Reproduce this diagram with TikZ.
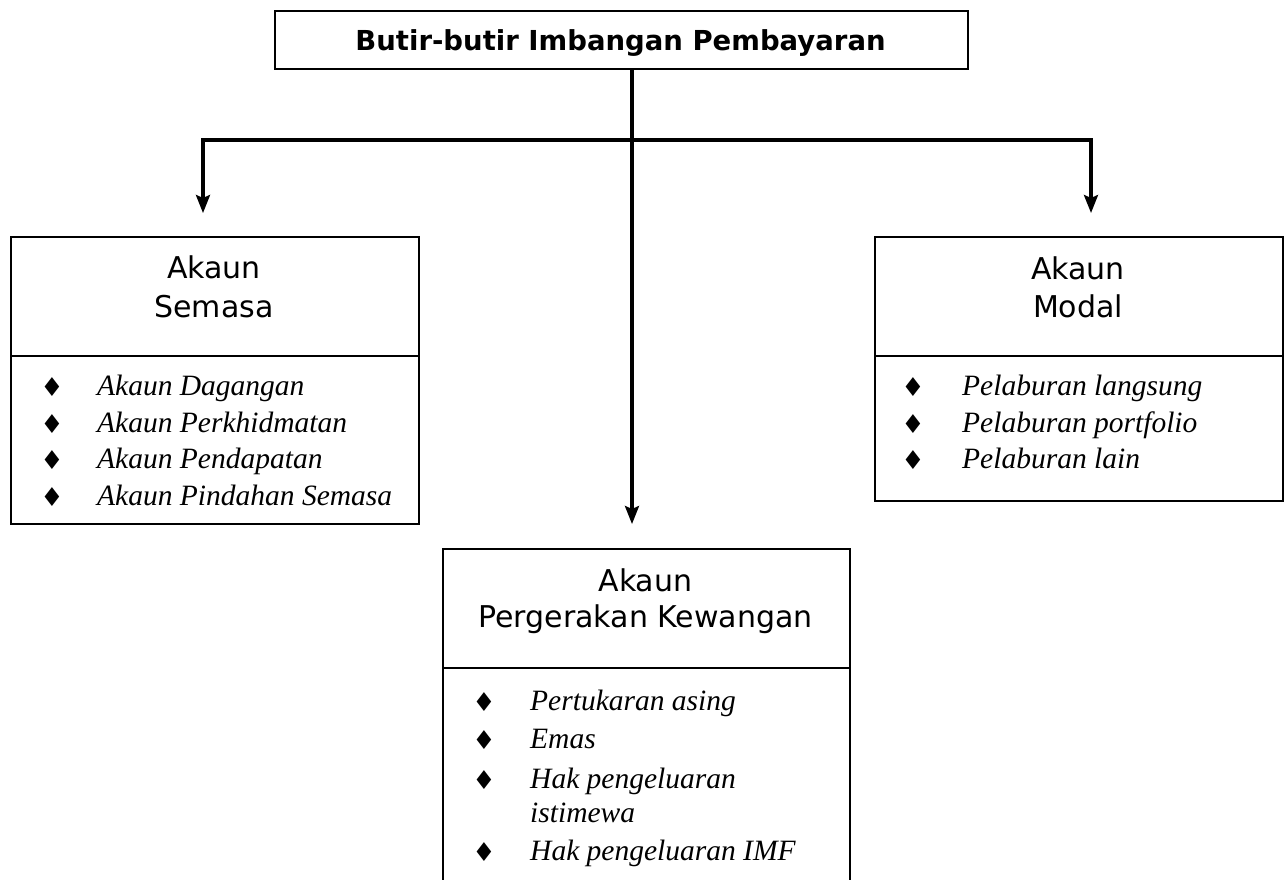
\documentclass[tikz,border=0pt]{standalone}
\usepackage{fontspec}
\setmainfont{Liberation Serif}
\newfontfamily\hdfont{DejaVu Sans}
\usetikzlibrary{arrows.meta,calc}
\begin{document}
\begin{tikzpicture}[x=1pt,y=-1pt,
 boxst/.style={draw, line width=2pt, inner sep=0pt, anchor=north west},
 sep/.style={line width=2pt},
 conn/.style={line width=3.2pt},
 arr/.style={conn, -{Stealth[length=18pt,width=14pt,inset=3pt]}},
 hd/.style={font=\hdfont\fontsize{30}{36}\selectfont, anchor=base, inner sep=0pt},
 itm/.style={font=\itshape\fontsize{29.5}{34}\selectfont, anchor=base west, inner sep=0pt},
 bul/.style={font=\hdfont\fontsize{26}{30}\selectfont, anchor=base, inner sep=0pt},
]
\useasboundingbox (0,0) rectangle (1284,879);
% top box
\node[boxst, minimum width=693pt, minimum height=58pt] (top) at (274,10) {};
\node[font=\hdfont\bfseries\fontsize{27.5}{32}\selectfont, anchor=base, inner sep=0pt] (toptxt) at (620.5,50) {Butir-butir Imbangan Pembayaran};
% connectors
\coordinate (hub) at (632,140);
\coordinate (tipl) at (203,213);
\coordinate (tipr) at (1091,213);
\coordinate (tipm) at (632,524);
\draw[arr] (hub) -| (tipl);
\draw[arr] (hub) -| (tipr);
\draw[arr] (top.south -| hub) -- (tipm);
% left box
\node[boxst, minimum width=408pt, minimum height=287pt] (semasa) at (10,236) {};
\draw[sep] ($(semasa.north west)+(0,120)$) -- ($(semasa.north east)+(0,120)$);
\node[hd] (s1) at (214,278) {Akaun};
\node[hd] (s2) at (214,317) {Semasa};
\node[bul] (sb1) at (52,396) {♦};
\node[itm] (si1) at (97,395) {Akaun Dagangan};
\node[bul] (sb2) at (52,433) {♦};
\node[itm] (si2) at (97,432) {Akaun Perkhidmatan};
\node[bul] (sb3) at (52,469) {♦};
\node[itm] (si3) at (97,468) {Akaun Pendapatan};
\node[bul] (sb4) at (52,506) {♦};
\node[itm] (si4) at (97,505) {Akaun Pindahan Semasa};
% right box
\node[boxst, minimum width=408pt, minimum height=264pt] (modal) at (874,236) {};
\draw[sep] ($(modal.north west)+(0,120)$) -- ($(modal.north east)+(0,120)$);
\node[hd] (m1) at (1078,279) {Akaun};
\node[hd] (m2) at (1078,317) {Modal};
\node[bul] (mb1) at (913,396) {♦};
\node[itm] (mi1) at (962,395) {Pelaburan langsung};
\node[bul] (mb2) at (913,433) {♦};
\node[itm] (mi2) at (962,432) {Pelaburan portfolio};
\node[bul] (mb3) at (913,469) {♦};
\node[itm] (mi3) at (962,468) {Pelaburan lain};
% bottom box
\node[boxst, minimum width=407pt, minimum height=400pt] (kew) at (442,548) {};
\draw[sep] ($(kew.north west)+(0,120)$) -- ($(kew.north east)+(0,120)$);
\node[hd] (k1) at (645.5,591) {Akaun};
\node[hd] (k2) at (645.5,627) {Pergerakan Kewangan};
\node[bul] (kb1) at (484,711) {♦};
\node[itm] (ki1) at (530,710) {Pertukaran asing};
\node[bul] (kb2) at (484,749) {♦};
\node[itm] (ki2) at (530,748) {Emas};
\node[bul] (kb3) at (484,789) {♦};
\node[itm] (ki3) at (530,788) {Hak pengeluaran};
\node[itm] (ki3b) at (530,822) {istimewa};
\node[bul] (kb4) at (484,861) {♦};
\node[itm] (ki4) at (530,860) {Hak pengeluaran IMF};
\end{tikzpicture}
\end{document}
